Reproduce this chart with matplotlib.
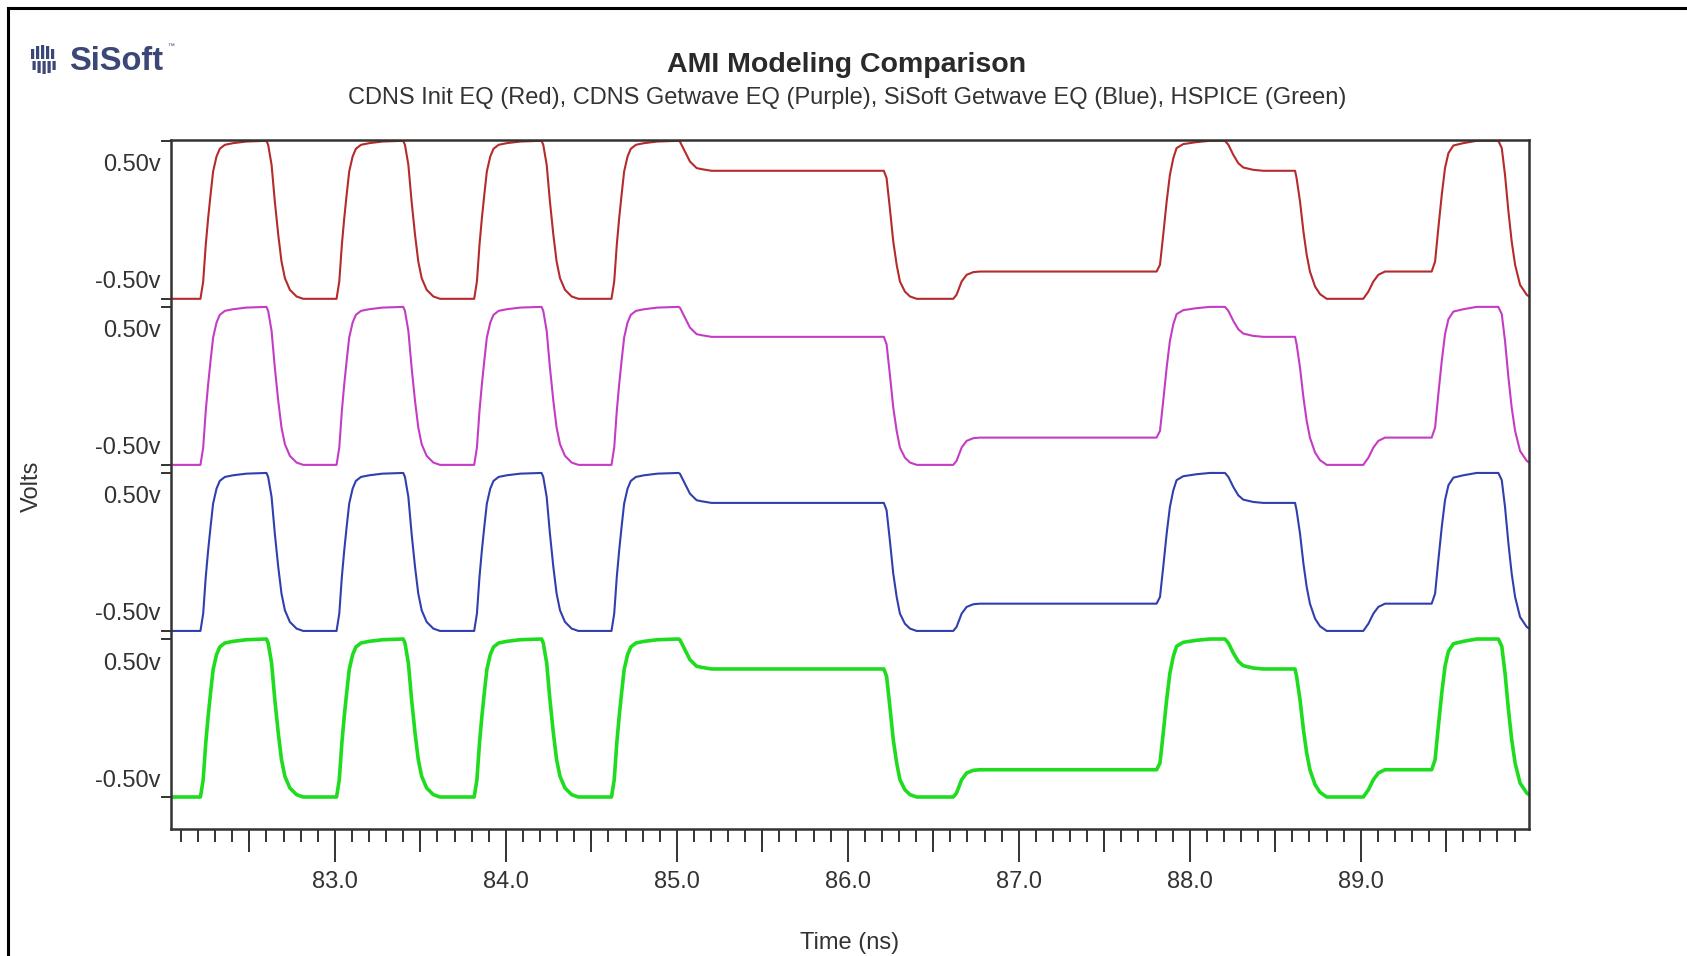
import matplotlib
matplotlib.use("Agg")
import matplotlib.pyplot as plt
from matplotlib.ticker import MultipleLocator, FixedLocator, NullFormatter, FormatStrFormatter
from matplotlib.lines import Line2D
from matplotlib.patches import FancyBboxPatch

plt.rcParams['font.family'] = ['Liberation Sans', 'DejaVu Sans']

# ---------------- data ----------------
title = "AMI Modeling Comparison"
subtitle = "CDNS Init EQ (Red), CDNS Getwave EQ (Purple), SiSoft Getwave EQ (Blue), HSPICE (Green)"
series_names = ["CDNS Init EQ", "CDNS Getwave EQ", "SiSoft Getwave EQ", "HSPICE"]
series_colors = ["#b52a2a", "#c43cc4", "#2f3fae", "#1fdc1f"]
series_widths = [1.5, 1.5, 1.5, 2.6]

time_ns = [
    82.040, 82.214, 82.230, 82.245, 82.259, 82.273, 82.288, 82.308, 82.327, 82.357, 82.405, 82.483, 82.600,
    82.610, 82.630, 82.649, 82.669, 82.688, 82.708, 82.737, 82.776, 82.815,
    83.010, 83.026, 83.041, 83.055, 83.069, 83.084, 83.104, 83.123, 83.153, 83.201, 83.279, 83.400,
    83.410, 83.430, 83.449, 83.469, 83.488, 83.508, 83.537, 83.576, 83.615,
    83.815, 83.831, 83.846, 83.860, 83.874, 83.889, 83.909, 83.928, 83.958, 84.006, 84.084, 84.209,
    84.219, 84.239, 84.258, 84.278, 84.297, 84.317, 84.346, 84.385, 84.424,
    84.618, 84.634, 84.649, 84.663, 84.677, 84.692, 84.712, 84.731, 84.761, 84.809, 84.887, 85.010,
    85.018, 85.047, 85.077, 85.116, 85.145, 85.203, 86.211,
    86.227, 86.246, 86.266, 86.286, 86.305, 86.334, 86.364, 86.403, 86.617,
    86.636, 86.666, 86.695, 86.734, 86.773, 87.806,
    87.826, 87.845, 87.865, 87.884, 87.904, 87.923, 87.962, 88.040, 88.118, 88.206,
    88.226, 88.255, 88.284, 88.313, 88.372, 88.430, 88.616,
    88.625, 88.645, 88.665, 88.684, 88.703, 88.733, 88.762, 88.801, 89.015,
    89.045, 89.074, 89.103, 89.142, 89.415,
    89.435, 89.454, 89.474, 89.493, 89.513, 89.542, 89.600, 89.678, 89.805,
    89.825, 89.844, 89.864, 89.883, 89.903, 89.932, 89.971, 89.985,
]

wave_volts = [
    -0.662, -0.662, -0.514, -0.201, 0.027, 0.226, 0.426, 0.554, 0.620, 0.654, 0.668, 0.682, 0.688,
    0.654, 0.483, 0.169, -0.115, -0.343, -0.486, -0.585, -0.642, -0.662,
    -0.662, -0.514, -0.201, 0.027, 0.226, 0.426, 0.554, 0.620, 0.654, 0.668, 0.682, 0.688,
    0.654, 0.483, 0.169, -0.115, -0.343, -0.486, -0.585, -0.642, -0.662,
    -0.662, -0.514, -0.201, 0.027, 0.226, 0.426, 0.554, 0.620, 0.654, 0.668, 0.682, 0.688,
    0.654, 0.483, 0.169, -0.115, -0.343, -0.486, -0.585, -0.642, -0.662,
    -0.662, -0.514, -0.201, 0.027, 0.226, 0.426, 0.554, 0.620, 0.654, 0.668, 0.682, 0.688,
    0.682, 0.597, 0.511, 0.455, 0.446, 0.432, 0.432,
    0.369, 0.113, -0.172, -0.372, -0.514, -0.600, -0.642, -0.662, -0.662,
    -0.628, -0.514, -0.457, -0.434, -0.429, -0.429,
    -0.372, -0.115, 0.169, 0.397, 0.540, 0.626, 0.660, 0.677, 0.688, 0.688,
    0.654, 0.568, 0.497, 0.460, 0.440, 0.432, 0.432,
    0.369, 0.169, -0.087, -0.286, -0.429, -0.557, -0.622, -0.662, -0.662,
    -0.600, -0.514, -0.457, -0.429, -0.429,
    -0.343, -0.058, 0.226, 0.455, 0.583, 0.648, 0.668, 0.688, 0.688,
    0.626, 0.397, 0.084, -0.172, -0.372, -0.543, -0.628, -0.642,
]

# all four models overlay to the same waveform in the picture
series_volts = [wave_volts, wave_volts, wave_volts, wave_volts]

band_top_v = 0.688
band_bot_v = -0.662
label_levels = [0.5, -0.5]
label_texts = ["0.50v", "-0.50v"]

x_major = [83.0, 84.0, 85.0, 86.0, 87.0, 88.0, 89.0]
x_half = [82.5, 83.5, 84.5, 85.5, 86.5, 87.5, 88.5, 89.5]

# ---------------- layout ----------------
W, H = 1687, 956
PX = 0.72  # points per pixel at dpi 100
fig = plt.figure(figsize=(W / 100, H / 100), dpi=100)
fig.patch.set_facecolor("white")

ax_l, ax_r, ax_t, ax_b = 170.7, 1529.3, 140.0, 829.3
ax = fig.add_axes([ax_l / W, 1 - ax_b / H, (ax_r - ax_l) / W, (ax_b - ax_t) / H])

band_step = 1.419
for k, (name, col, lw, vals) in enumerate(zip(series_names, series_colors, series_widths, series_volts)):
    off = -k * band_step
    ax.plot(time_ns, [v + off for v in vals], color=col, lw=lw, solid_joinstyle='round', label=name)

ax.set_xlim(82.04, 89.986)
ax.set_ylim(-5.195, 0.695)

# y ticks: labels at +-0.5 of each band, short marks at band edges
ylab_pos, ylab_txt, yedge = [], [], []
for k in range(len(series_names)):
    off = -k * band_step
    for lv, lt in zip(label_levels, label_texts):
        ylab_pos.append(lv + off)
        ylab_txt.append(lt)
    yedge += [band_top_v + off, band_bot_v + off]
ax.yaxis.set_major_locator(FixedLocator(ylab_pos))
ax.set_yticklabels(ylab_txt)
ax.yaxis.set_minor_locator(FixedLocator(yedge))
ax.yaxis.set_minor_formatter(NullFormatter())
ax.tick_params(axis='y', which='major', length=0, pad=10 * PX, labelsize=17, labelcolor='#333333')
ax.tick_params(axis='y', which='minor', length=10 * PX, width=1.4, color='#333333')

# x ticks
ax.xaxis.set_major_locator(FixedLocator(x_major))
ax.xaxis.set_major_formatter(FormatStrFormatter('%.1f'))
ax.xaxis.set_minor_locator(MultipleLocator(0.1))
ax.tick_params(axis='x', which='major', length=33 * PX, width=1.4, color='#333333', pad=9 * PX,
               labelsize=17, labelcolor='#333333')
ax.tick_params(axis='x', which='minor', length=13 * PX, width=1.4, color='#333333')
sec = ax.secondary_xaxis('bottom')
sec.xaxis.set_major_locator(FixedLocator(x_half))
sec.xaxis.set_major_formatter(NullFormatter())
sec.tick_params(axis='x', which='major', length=23 * PX, width=1.4, color='#333333')
sec.tick_params(axis='x', which='minor', length=0)
sec.spines['bottom'].set_visible(False)

for s in ax.spines.values():
    s.set_linewidth(1.8)
    s.set_color('#333333')

# texts
fig.text(847 / W, 1 - 65 / H, title, ha='center', va='center', fontsize=20.5,
         fontweight='bold', color='#2a2a2a')
fig.text(847 / W, 1 - 98 / H, subtitle, ha='center', va='center', fontsize=17, color='#333333')
fig.text(850 / W, 1 - 943 / H, "Time (ns)", ha='center', va='center', fontsize=17, color='#333333')
fig.text(32 / W, 1 - 486 / H, "Volts", ha='center', va='center', rotation=90, fontsize=17,
         color='#333333')

# logo
logo_col = '#3b4776'
fig.text(69 / W, 1 - 62 / H, "SiSoft", ha='left', va='center', fontsize=23.5, fontweight='bold',
         color=logo_col)
fig.text(167 / W, 1 - 46 / H, "\u2122", ha='left', va='center', fontsize=5, color=logo_col)
for i, (bx, h1, h2) in enumerate([(31, 10, 9), (36, 13, 12), (41, 14, 13), (46, 13, 12), (51, 10, 9)]):
    fig.add_artist(FancyBboxPatch(((bx) / W, 1 - (60 - 1) / H), 3.2 / W, h1 / H,
                                  boxstyle="round,pad=0", transform=fig.transFigure,
                                  color=logo_col, lw=0))
    fig.add_artist(FancyBboxPatch(((bx + 1.5) / W, 1 - (60 + 1 + h2) / H), 3.2 / W, h2 / H,
                                  boxstyle="round,pad=0", transform=fig.transFigure,
                                  color=logo_col, lw=0))

# outer border (top and left visible)
fig.add_artist(Line2D([7.5 / W, 1.0], [1 - 7.7 / H, 1 - 7.7 / H], transform=fig.transFigure,
                      color='black', lw=2.2))
fig.add_artist(Line2D([7.5 / W, 7.5 / W], [0.0, 1 - 7.7 / H], transform=fig.transFigure,
                      color='black', lw=2.2))

fig.savefig("out.png", dpi=100)
